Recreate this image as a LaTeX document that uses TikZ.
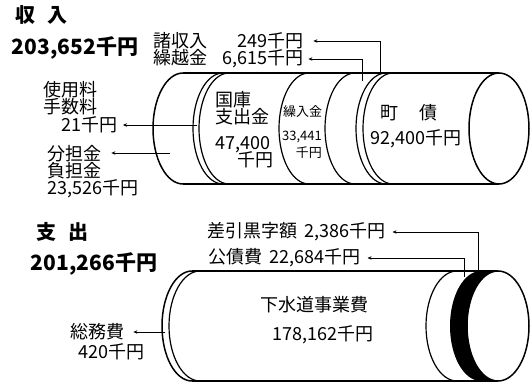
\documentclass[tikz,border=0pt]{standalone}
\usepackage{fontspec}
\setmainfont{Noto Sans CJK JP}
\usetikzlibrary{positioning,arrows.meta}

\begin{document}
\begin{tikzpicture}[x=1pt, y=-1pt, node distance={0pt},
    cyl/.style = {line width=1.5pt},
    seg/.style = {line width=1.2pt},
    lead/.style = {line width=0.7pt, -{Stealth[length=4pt,width=3.5pt]}, shorten >=7pt},
    lbl/.style = {inner sep=0pt, font=\fontsize{18}{18}\selectfont},
    big/.style = {inner sep=0pt, font=\fontsize{21}{24}\selectfont\bfseries},
    sml/.style = {inner sep=0pt, font=\fontsize{13}{14}\selectfont}]
    \useasboundingbox (0,0) rectangle (531,385);
    % income cylinder
    \draw[cyl] (183,73) -- (499,73) (183,184) -- (499,184);
    \draw[cyl] (183,73) arc[start angle=270, end angle=90, x radius=30, y radius=55.5];
    \draw[cyl] (499,128.5) ellipse[x radius=30, y radius=55.5];
    \foreach \c in {223,229,309,355,386,393}
        \draw[seg] (\c,73) arc[start angle=270, end angle=90, x radius=30, y radius=55.5];
    % expense cylinder
    \fill (481,271) arc[start angle=270, end angle=90, x radius=31, y radius=55]
        -- (498,381) arc[start angle=90, end angle=270, x radius=31, y radius=55] -- cycle;
    \draw[cyl] (192,271) -- (498,271) (192,381) -- (498,381);
    \draw[cyl] (192,271) arc[start angle=270, end angle=90, x radius=30, y radius=55];
    \draw[cyl] (498,326) ellipse[x radius=31, y radius=55];
    \foreach \c in {200,457}
        \draw[seg] (\c,271) arc[start angle=270, end angle=90, x radius=31, y radius=55];

    \node[big, font=\fontsize{20}{24}\selectfont\bfseries] (1) at (42,15) {収\hspace{0.6em}入};
    \node[big] (2) at (75,48) {203,652千円};
    \node[lbl, text width=150pt, anchor=west] (3) at (153,41) {諸収入\hfill 249千円};
    \node[lbl, text width=150pt, anchor=west] (4) at (153,59) {繰越金\hfill 6,615千円};
    \node[lbl, anchor=west] (5) at (43,90) {使用料};
    \node[lbl, below=of 5.south west, anchor=north west] (6) {手数料};
    \node[lbl, anchor=east] (7) at (118,125) {21千円};
    \node[lbl, anchor=west] (8) at (47,154) {分担金};
    \node[lbl, below=of 8.south west, anchor=north west] (9) {負担金};
    \node[lbl, below=of 9.south west, anchor=north west] (10) {23,526千円};
    \node[lbl, anchor=west] (11) at (215,100) {国庫};
    \node[lbl, below=of 11.south west, anchor=north west] (12) {支出金};
    \node[lbl, anchor=west] (13) at (215,145) {47,400};
    \node[lbl, anchor=west] (14) at (237,160) {千円};
    \node[sml, anchor=west] (15) at (283,112) {繰入金};
    \node[sml, anchor=west] (16) at (282,137) {33,441};
    \node[sml, anchor=east] (17) at (322,153) {千円};
    \node[lbl, anchor=west] (18) at (380,113) {町\hspace{1.2em}債};
    \node[lbl, anchor=west] (19) at (370,139) {92,400千円};

    \node[big, font=\fontsize{20}{24}\selectfont\bfseries] (20) at (62,232) {支\hspace{0.6em}出};
    \node[big] (21) at (94,264) {201,266千円};
    \node[lbl, anchor=west] (22) at (207,232) {差引黒字額\hspace{0.4em}2,386千円};
    \node[lbl, anchor=west] (23) at (208,258) {公債費\hspace{0.4em}22,684千円};
    \node[lbl, anchor=west] (24) at (260,305) {下水道事業費};
    \node[lbl, anchor=west] (25) at (272,335) {178,162千円};
    \node[lbl, anchor=west] (26) at (70,332) {総務費};
    \node[lbl, anchor=west] (27) at (78,352) {420千円};

    % leader lines
    \coordinate (a1) at (197,125);
    \coordinate (a2) at (170,153);
    \coordinate (a3) at (380,73);
    \coordinate (a4) at (362,81);
    \coordinate (a5) at (478,271);
    \coordinate (a6) at (464,277);
    \coordinate (a7) at (165,332);
    \draw[lead, shorten >=5pt] (a1) -- (a1 -| 7.east);
    \draw[lead, shorten >=10pt] (a2) -- (a2 -| 8.east);
    \draw[lead, shorten >=10pt] (a3) |- (3.east);
    \draw[lead, shorten >=5pt] (a4) |- (4.east);
    \draw[lead] (a5) |- (22.east);
    \draw[lead] (a6) |- (23.east);
    \draw[lead, shorten >=9pt] (a7) -- (a7 -| 26.east);
\end{tikzpicture}
\end{document}
